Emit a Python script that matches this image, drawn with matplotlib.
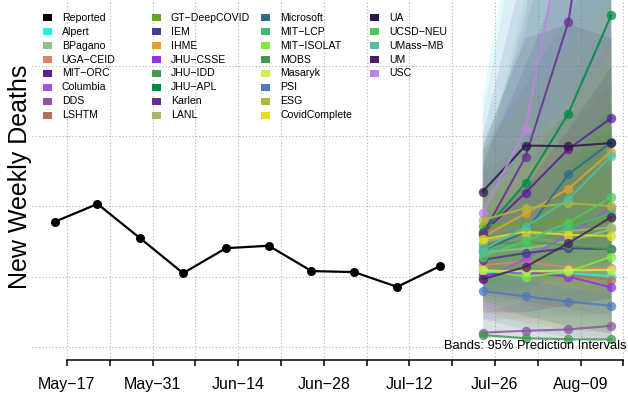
import matplotlib
matplotlib.use('Agg')
import matplotlib.pyplot as plt
import matplotlib.dates as mdates
import numpy as np
from matplotlib.patches import Rectangle

plt.rcParams['font.family'] = ['Liberation Sans', 'DejaVu Sans']

# ---------------- data ----------------
reported_dates = ['2020-05-15', '2020-05-22', '2020-05-29', '2020-06-05', '2020-06-12',
                  '2020-06-19', '2020-06-26', '2020-07-03', '2020-07-10', '2020-07-17']
reported = [556, 607, 509, 410, 481, 488, 416, 413, 371, 430]

forecast_dates = ['2020-07-24', '2020-07-31', '2020-08-07', '2020-08-14']

models = ['Alpert', 'BPagano', 'UGA\u2212CEID', 'MIT\u2212ORC', 'Columbia', 'DDS', 'LSHTM',
          'GT\u2212DeepCOVID', 'IEM', 'IHME', 'JHU\u2212CSSE', 'JHU\u2212IDD', 'JHU\u2212APL', 'Karlen', 'LANL',
          'Microsoft', 'MIT\u2212LCP', 'MIT\u2212ISOLAT', 'MOBS', 'Masaryk', 'PSI', 'ESG', 'CovidComplete',
          'UA', 'UCSD\u2212NEU', 'UMass\u2212MB', 'UM', 'USC']
colors = ['#1EF5DC', '#8FC08F', '#DE8466', '#5A1E9A', '#A855D8', '#8A55A0', '#BC6C58',
          '#66A61E', '#453A8C', '#E0A030', '#9030E8', '#459A50', '#008A48', '#6B2D8E', '#A3B86C',
          '#2A6E8A', '#3CBB75', '#80E840', '#409850', '#CCF050', '#5078C0', '#B0B838', '#E0E020',
          '#2E1646', '#50C860', '#50C0A0', '#4A1E60', '#C084E0']

med = [[413, 410, 410, 402], [470, 480, 500, 535], [433, 443, 426, 424], [524, 639, 763, 851],
       [395, 450, 520, 595], [241, 246, 250, 260], [420, 415, 405, 391],
       [545, 550, 555, 566], [448, 467, 481, 478], [513, 580, 650, 756], [405, 413, 400, 370],
       [490, 499, 490, 478], [527, 666, 864, 1143], [520, 741, 1124, 1900], [500, 520, 530, 540],
       [476, 527, 691, 782], [470, 500, 540, 580], [419, 400, 414, 457], [234, 225, 222, 222],
       [418, 415, 418, 419], [359, 344, 329, 317], [561, 595, 609, 601], [506, 528, 519, 516],
       [642, 773, 771, 780], [457, 502, 554, 626], [476, 541, 620, 743], [393, 428, 495, 569],
       [582, 819, 1463, 2200]]
lo = [[330, 300, 280, 260], [360, 330, 300, 280], [340, 320, 290, 270], [400, 430, 450, 460],
      [280, 280, 290, 300], [228, 226, 226, 228], [300, 270, 250, 240],
      [430, 400, 380, 360], [350, 330, 310, 290], [440, 470, 490, 520], [310, 290, 260, 240],
      [330, 290, 260, 240], [380, 420, 470, 520], [400, 480, 600, 800], [380, 350, 320, 300],
      [360, 360, 420, 440], [360, 340, 330, 320], [330, 280, 260, 250], [228, 222, 220, 218],
      [300, 260, 240, 230], [280, 250, 230, 220], [420, 400, 380, 360], [400, 390, 370, 350],
      [480, 520, 500, 480], [380, 390, 410, 440], [360, 380, 400, 430], [300, 300, 320, 340],
      [420, 520, 700, 900]]
hi = [[912, 1600, 2000, 2400], [640, 720, 820, 950], [560, 620, 660, 700], [720, 1000, 1300, 1600],
      [560, 700, 900, 1150], [300, 330, 360, 400], [600, 680, 760, 820],
      [700, 780, 860, 950], [580, 660, 740, 820], [600, 730, 880, 1080], [540, 620, 680, 720],
      [760, 950, 1150, 1350], [760, 1100, 1600, 2200], [700, 1150, 2000, 3500], [660, 760, 880, 1000],
      [800, 1300, 1700, 2000], [620, 730, 860, 1000], [530, 580, 660, 760], [520, 640, 760, 880],
      [620, 760, 900, 1050], [460, 480, 500, 520], [760, 900, 1050, 1200], [640, 720, 780, 840],
      [780, 1080, 1120, 1080], [560, 650, 760, 900], [700, 1200, 1600, 2000], [540, 660, 820, 1000],
      [860, 1500, 3000, 5000]]

tick_dates = ['2020-05-17', '2020-05-24', '2020-05-31', '2020-06-07', '2020-06-14', '2020-06-21',
              '2020-06-28', '2020-07-05', '2020-07-12', '2020-07-19', '2020-07-26', '2020-08-02',
              '2020-08-09', '2020-08-16']
tick_labels = ['May\u221217', '', 'May\u221231', '', 'Jun\u221214', '', 'Jun\u221228', '',
               'Jul\u221212', '', 'Jul\u221226', '', 'Aug\u221209', '']
grid_y = [200, 400, 600, 800, 1000]

# ---------------- figure ----------------
W, H = 628, 399
fig = plt.figure(figsize=(W / 100, H / 100), dpi=100)
ax = fig.add_axes([31.5 / W, 1 - 360 / H, 1 - 31.5 / W, 360 / H])

rd = mdates.date2num(np.array(reported_dates, dtype='datetime64[D]'))
fd = mdates.date2num(np.array(forecast_dates, dtype='datetime64[D]'))
td = mdates.date2num(np.array(tick_dates, dtype='datetime64[D]'))

for c, l, h in zip(colors, lo, hi):
    ax.fill_between(fd, l, h, color=c, alpha=0.12, lw=0, zorder=1)

for c, m in zip(colors, med):
    ax.plot(fd, m, '-', color=c, lw=1.5, alpha=0.85, zorder=3)
    ax.plot(fd, m, 'o', color=c, ms=6.8, mew=0, alpha=0.75, zorder=3)

ax.plot(rd, reported, '-o', color='black', lw=1.6, ms=6.5, mew=0, zorder=4)

ax.set_xlim(td[0] - 5.79, td[0] + 91.76)
ax.set_ylim(163, 1187)
ax.set_xticks(td)
ax.set_xticklabels(tick_labels)
ax.set_yticks(grid_y)
ax.tick_params(axis='y', length=0, labelleft=False)
ax.tick_params(axis='x', length=4, width=1.1, pad=8, labelsize=11.5, direction='out')
ax.grid(True, ls=(0, (1, 2)), color='#B4B4B4', lw=0.8, zorder=0)
ax.set_axisbelow(True)
for s in ['left', 'right', 'top']:
    ax.spines[s].set_visible(False)
ax.spines['bottom'].set_bounds(td[0], td[-1])
ax.spines['bottom'].set_linewidth(1.1)

# ---------------- overlay: legend, labels ----------------
ov = fig.add_axes([0, 0, 1, 1])
ov.set_xlim(0, W)
ov.set_ylim(H, 0)
ov.axis('off')

leg_names = ['Reported'] + models
leg_colors = ['black'] + colors
for i, (n, c) in enumerate(zip(leg_names, leg_colors)):
    col, row = divmod(i, 8)
    tx = 61.7 + col * 109.2
    ty = 17.7 + row * 13.95
    ov.add_patch(Rectangle((tx - 19, ty - 3.5), 9, 7, color=c, lw=0))
    ov.text(tx, ty, n, fontsize=7.6, va='center', ha='left', color='black')

ov.text(20, 176.5, 'New Weekly Deaths', rotation=90, fontsize=18, ha='center', va='center')
ov.text(626, 346, 'Bands: 95% Prediction Intervals', fontsize=9.3, ha='right', va='center')

fig.savefig('out.png', dpi=100)
